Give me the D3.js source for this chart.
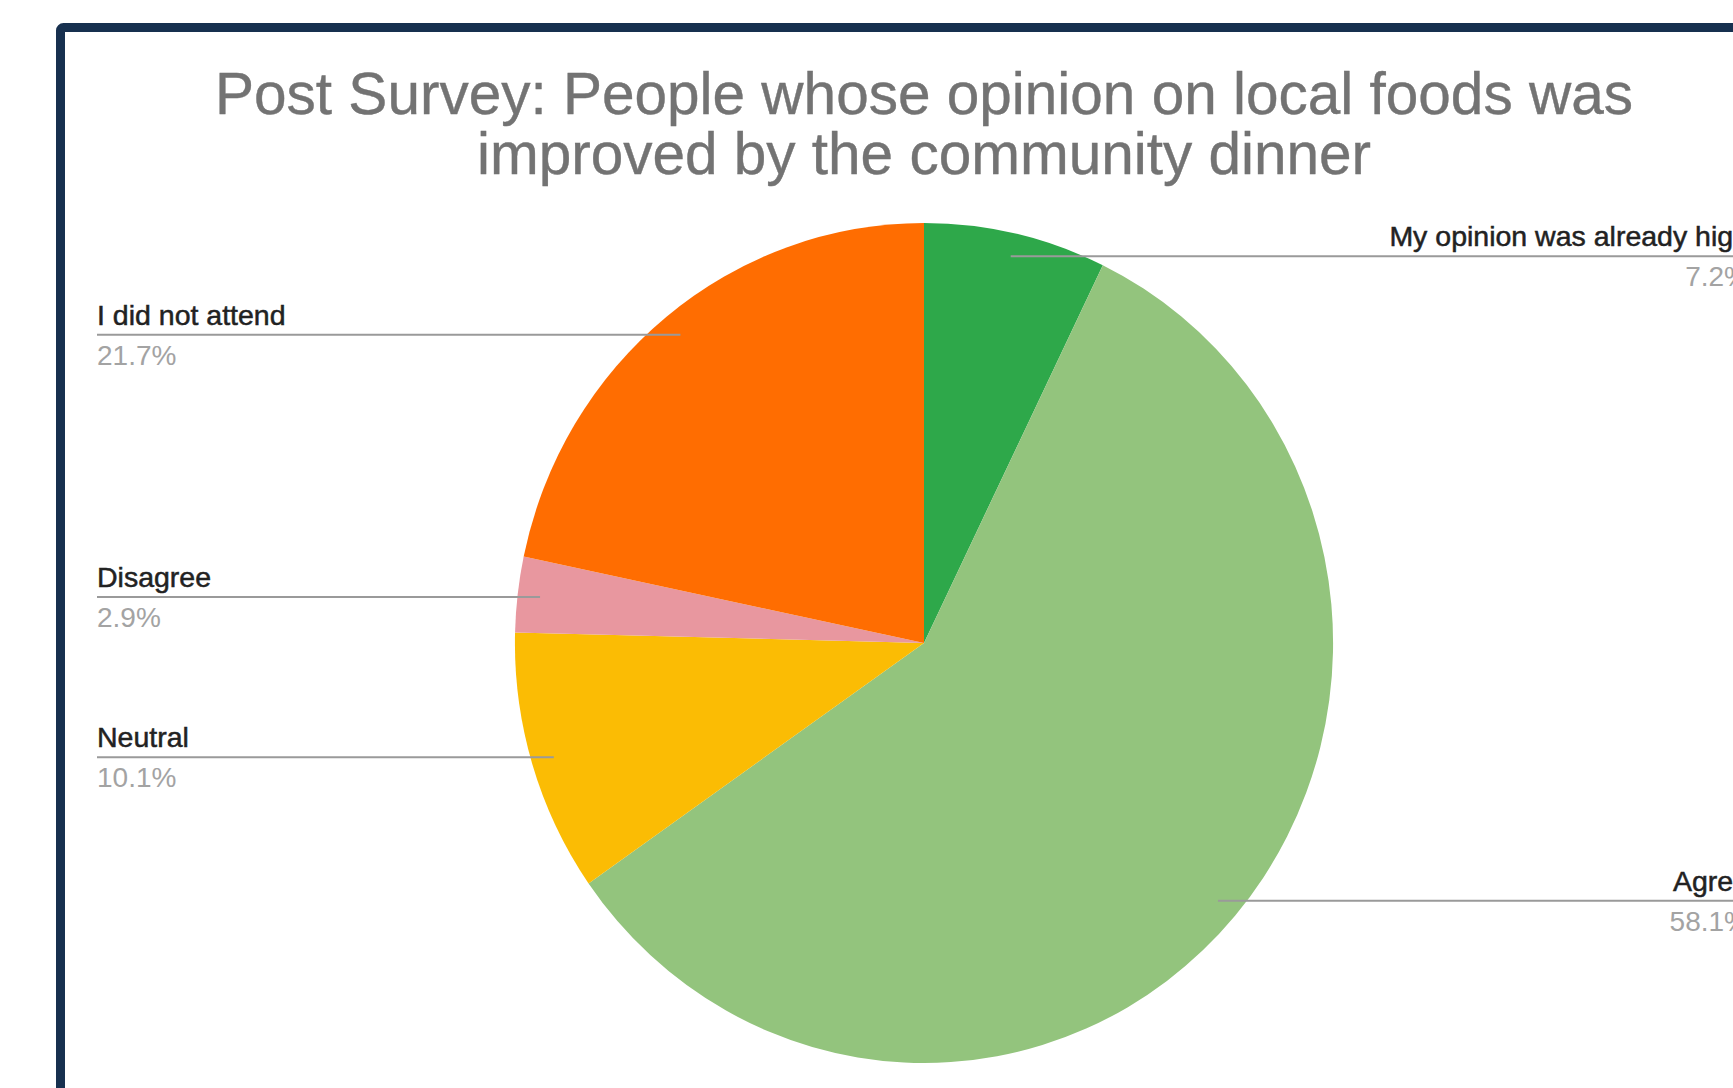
<!DOCTYPE html>
<html>
<head>
<meta charset="utf-8">
<script src="https://cdn.jsdelivr.net/npm/d3@7"></script>
<style>
  html, body { margin: 0; padding: 0; background: #fff; overflow: hidden; }
  svg { display: block; font-family: "Liberation Sans", Arial, sans-serif; }
</style>
</head>
<body>
<div id="chart"></div>
<script>
// Data, clockwise from 12 o'clock
var categories = ["My opinion was already high", "Agree", "Neutral", "Disagree", "I did not attend"];
var values = [7.2, 58.1, 10.1, 2.9, 21.7];
var percentLabels = ["7.2%", "58.1%", "10.1%", "2.9%", "21.7%"];
var colors = ["#2ea84a", "#93c47d", "#fbbc04", "#e8979f", "#ff6d01"];
var titleLines = ["Post Survey: People whose opinion on local foods was", "improved by the community dinner"];

var width = 1733,
    height = 1088;

var svg = d3.select("#chart").append("svg")
    .attr("width", width)
    .attr("height", height);

// Frame (runs off the right and bottom edges)
svg.append("rect")
    .attr("x", 60.5)
    .attr("y", 27.5)
    .attr("rx", 3)
    .attr("width", 1800)
    .attr("height", 1200)
    .style("fill", "#fff")
    .style("stroke", "#17304f")
    .style("stroke-width", 9);

// Title
svg.append("g")
    .attr("class", "title")
  .selectAll("text")
    .data(titleLines)
  .enter().append("text")
    .attr("x", 924)
    .attr("y", function(d, i) { return 114 + i * 60; })
    .attr("text-anchor", "middle")
    .style("font-size", "58.5px")
    .style("fill", "#737373")
    .style("stroke", "#737373")
    .style("stroke-width", 0.4)
    .text(function(d) { return d; });

// Pie (slightly squashed horizontally, like the picture)
var cx = 924,
    cy = 643,
    ry = 420,
    sx = 0.974,
    rx = ry * sx;

var pie = d3.pie()
    .sort(null)
    .value(function(d) { return d; });

var arcs = pie(values);

var arc = d3.arc()
    .innerRadius(0)
    .outerRadius(ry);

var g = svg.append("g")
    .attr("transform", "translate(" + cx + "," + cy + ") scale(" + sx + ",1)");

g.selectAll(".slice")
    .data(arcs)
  .enter().append("path")
    .attr("class", "slice")
    .attr("d", arc)
    .style("fill", function(d, i) { return colors[i]; });

// Leader lines + labels
var labelLeft = 97,
    labelRight = 1749;

var labels = svg.append("g")
    .attr("class", "labels");

arcs.forEach(function(d, i) {
  var mid = (d.startAngle + d.endAngle) / 2;
  var px = cx + rx * 0.945 * Math.sin(mid),
      py = cy - ry * 0.945 * Math.cos(mid);
  var left = Math.sin(mid) < 0;
  var tx = left ? labelLeft : labelRight;

  labels.append("line")
      .attr("x1", px)
      .attr("y1", py)
      .attr("x2", tx)
      .attr("y2", py)
      .style("stroke", "#9a9a9a")
      .style("stroke-width", 2);

  labels.append("text")
      .attr("x", tx)
      .attr("y", py - 10)
      .attr("text-anchor", left ? "start" : "end")
      .style("font-size", "28.5px")
      .style("fill", "#222")
      .style("stroke", "#222")
      .style("stroke-width", 0.5)
      .text(categories[i]);

  labels.append("text")
      .attr("x", tx)
      .attr("y", py + 30)
      .attr("text-anchor", left ? "start" : "end")
      .style("font-size", "28px")
      .style("fill", "#a3a3a3")
      .text(percentLabels[i]);
});
</script>
</body>
</html>
